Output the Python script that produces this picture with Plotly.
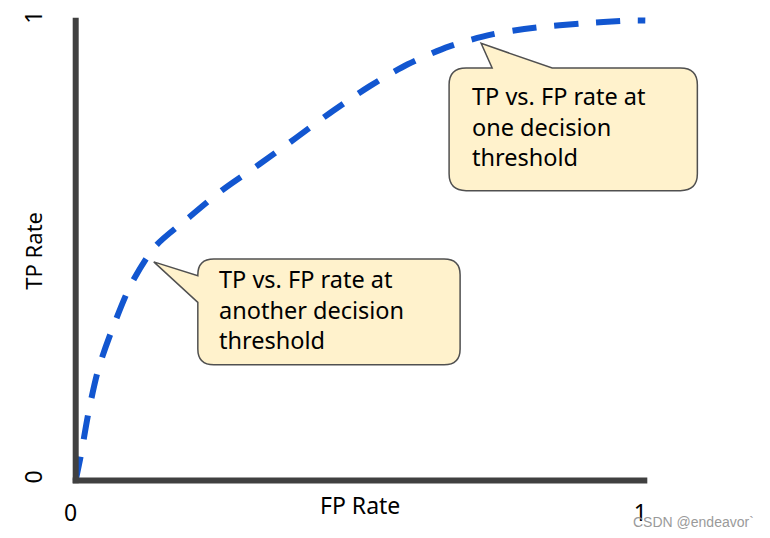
import plotly.graph_objects as go

# ---- data ----
fp_rate = [0.0, 0.009, 0.023, 0.040, 0.067, 0.097, 0.139, 0.197, 0.258, 0.323,
           0.388, 0.452, 0.517, 0.583, 0.656, 0.731, 0.810, 0.889, 0.970, 1.0]
tp_rate = [0.0, 0.054, 0.151, 0.243, 0.338, 0.426, 0.508, 0.570, 0.632, 0.688,
           0.746, 0.804, 0.858, 0.905, 0.944, 0.970, 0.985, 0.994, 1.000, 1.0]
tick_vals = [0, 1]
tick_text = ["0", "1"]
x_title = "FP Rate"
y_title = "TP Rate"
callout_low_lines = ["TP vs. FP rate at", "another decision", "threshold"]
callout_high_lines = ["TP vs. FP rate at", "one decision", "threshold"]
watermark = "CSDN @endeavor`"

# ---- layout geometry (screen pixels of the 770x538 window; page has an 8px body margin) ----
OFF = 8
W, H = 770 - OFF, 538 - OFF
XR = [-0.01, 1.01]
YR = [-0.01, 1.01]
PX0, PX1 = 76 - OFF, 645 - OFF     # figure pixel of x=0 and x=1
PY0, PY1 = 480 - OFF, 15 - OFF     # figure pixel of y=0 and y=1
sx = PX1 - PX0
sy = PY0 - PY1
ML = PX0 + XR[0] * sx
MR = W - (PX0 + XR[1] * sx)
MB = H - (PY0 - YR[0] * sy)
MT = PY0 - YR[1] * sy
PW = W - ML - MR
PH = H - MT - MB


def paper(px, py):
    """screen pixel -> paper coordinate"""
    fx, fy = px - OFF, py - OFF
    return ((fx - ML) / PW, (H - MB - fy) / PH)


def path_from(points):
    out = []
    for cmd, pts in points:
        coords = " ".join("%.5f,%.5f" % paper(*p) for p in pts)
        out.append(cmd + " " + coords)
    return " ".join(out) + " Z"


def box_left_pointer(l, t, r, b, rad, p1y, tip, p2y):
    return path_from([
        ("M", [(l + rad, t)]), ("L", [(r - rad, t)]), ("Q", [(r, t), (r, t + rad)]),
        ("L", [(r, b - rad)]), ("Q", [(r, b), (r - rad, b)]), ("L", [(l + rad, b)]),
        ("Q", [(l, b), (l, b - rad)]), ("L", [(l, p2y)]), ("L", [tip]), ("L", [(l, p1y)]),
        ("L", [(l, t + rad)]), ("Q", [(l, t), (l + rad, t)]),
    ])


def box_top_pointer(l, t, r, b, rad, p1x, tip, p2x):
    return path_from([
        ("M", [(l + rad, t)]), ("L", [(p1x, t)]), ("L", [tip]), ("L", [(p2x, t)]),
        ("L", [(r - rad, t)]), ("Q", [(r, t), (r, t + rad)]),
        ("L", [(r, b - rad)]), ("Q", [(r, b), (r - rad, b)]), ("L", [(l + rad, b)]),
        ("Q", [(l, b), (l, b - rad)]), ("L", [(l, t + rad)]), ("Q", [(l, t), (l + rad, t)]),
    ])


FONT = "Noto Sans"
AX_COLOR = "#404040"
CURVE = "#1256D0"
FILL = "#FFF2CC"

fig = go.Figure()
fig.add_trace(go.Scatter(
    x=fp_rate, y=tp_rate, mode="lines",
    line=dict(color=CURVE, width=6, dash="24px,18px", shape="spline", smoothing=0.8),
    hoverinfo="skip", showlegend=False,
))

shapes = [
    # axes
    dict(type="line", xref="x", yref="y", x0=0, x1=0, y0=-3 / sy, y1=1 + 3 / sy,
         line=dict(color=AX_COLOR, width=6)),
    dict(type="line", xref="x", yref="y", x0=-3 / sx, x1=1 + 2 / sx, y0=0, y1=0,
         line=dict(color=AX_COLOR, width=6)),
    # callouts
    dict(type="path", xref="paper", yref="paper",
         path=box_left_pointer(198, 256, 460, 363, 16, 273, (154, 259), 300),
         fillcolor=FILL, line=dict(color="#505050", width=1.5), layer="above"),
    dict(type="path", xref="paper", yref="paper",
         path=box_top_pointer(449, 63, 697, 187, 17, 492, (481, 38), 552),
         fillcolor=FILL, line=dict(color="#505050", width=1.5), layer="above"),
]

annotations = []
TXT = 23.5
x, y = paper(218, 307)
annotations.append(dict(text="<br>".join(callout_low_lines), x=x, y=y, xref="paper", yref="paper",
                        xanchor="left", yanchor="middle", align="left", showarrow=False,
                        borderpad=0, font=dict(family=FONT, size=TXT, color="#000000")))
x, y = paper(471, 122)
annotations.append(dict(text="<br>".join(callout_high_lines), x=x, y=y, xref="paper", yref="paper",
                        xanchor="left", yanchor="middle", align="left", showarrow=False,
                        borderpad=0, font=dict(family=FONT, size=TXT, color="#000000")))
# axis titles
x, y = paper(360, 505)
annotations.append(dict(text=x_title, x=x, y=y, xref="paper", yref="paper",
                        xanchor="center", yanchor="middle", showarrow=False,
                        font=dict(family=FONT, size=23, color="#000000")))
x, y = paper(33, 248)
annotations.append(dict(text=y_title, x=x, y=y, xref="paper", yref="paper", textangle=-90,
                        xanchor="center", yanchor="middle", showarrow=False,
                        font=dict(family=FONT, size=22, color="#000000")))
# watermark
x, y = paper(756, 522)
annotations.append(dict(text=watermark, x=x, y=y, xref="paper", yref="paper",
                        xanchor="right", yanchor="middle", showarrow=False,
                        font=dict(family="Liberation Sans", size=14, color="#9a9a9a")))

fig.update_layout(
    width=W, height=H,
    margin=dict(l=ML, r=MR, t=MT, b=MB, pad=0),
    paper_bgcolor="white", plot_bgcolor="white",
    shapes=shapes, annotations=annotations,
    showlegend=False,
)
fig.update_xaxes(range=XR, showline=False, showgrid=False, zeroline=False,
                 tickvals=tick_vals, ticktext=tick_text, ticks="",
                 ticklabelstandoff=12, ticklabelshift=-5, ticklabeloverflow="allow",
                 tickfont=dict(family=FONT, size=23, color="#000000"))
fig.update_yaxes(range=YR, showline=False, showgrid=False, zeroline=False,
                 tickvals=tick_vals, ticktext=tick_text, ticks="", tickangle=-90,
                 ticklabelstandoff=22, ticklabeloverflow="allow",
                 tickfont=dict(family=FONT, size=23, color="#000000"))

fig.write_html("out.html")
